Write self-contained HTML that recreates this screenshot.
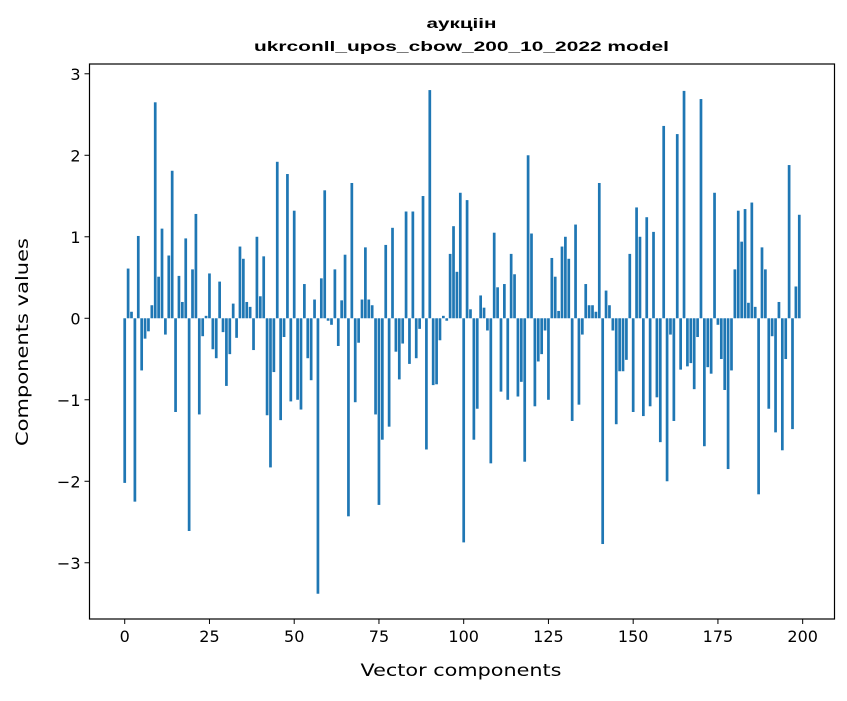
<!DOCTYPE html>
<html><head><meta charset="utf-8"><style>
html,body{margin:0;padding:0;background:#fff;}
svg text{font-family:"DejaVu Sans","Liberation Sans",sans-serif;fill:#000;}
</style></head><body>
<svg id="chart" width="847" height="696" viewBox="0 0 847 696" xmlns="http://www.w3.org/2000/svg">
<rect x="0" y="0" width="847" height="696" fill="#fff"/>
<text x="461.5" y="28" text-anchor="middle" font-size="14" font-weight="bold" textLength="70" lengthAdjust="spacingAndGlyphs" style="font-family:'Liberation Sans',sans-serif">аукціін</text>
<text x="461.5" y="51" text-anchor="middle" font-size="14" font-weight="bold" textLength="415" lengthAdjust="spacingAndGlyphs" style="font-family:'Liberation Sans',sans-serif">ukrconll_upos_cbow_200_10_2022 model</text>
<g id="bars"></g>
<g id="xticks"></g>
<g id="yticks"></g>
<rect x="89.5" y="64" width="745" height="555" fill="none" stroke="#000" stroke-width="1.2"/>
<text x="461" y="676" text-anchor="middle" font-size="16.5" textLength="201" lengthAdjust="spacingAndGlyphs">Vector components</text>
<text transform="translate(28,342) rotate(-90)" text-anchor="middle" font-size="16.5" textLength="208" lengthAdjust="spacingAndGlyphs">Components values</text>
</svg>
<script>
const values = [
-2.02,0.61,0.08,-2.25,1.01,-0.64,-0.25,-0.16,0.16,2.65,
0.51,1.10,-0.2,0.77,1.81,-1.15,0.52,0.2,0.98,-2.61,
0.6,1.28,-1.18,-0.22,0.03,0.55,-0.38,-0.49,0.45,-0.17,
-0.83,-0.44,0.18,-0.24,0.88,0.73,0.2,0.14,-0.39,1.0,
0.27,0.76,-1.19,-1.83,-0.66,1.92,-1.25,-0.23,1.77,-1.02,
1.32,-1.0,-1.12,0.42,-0.49,-0.76,0.23,-3.38,0.49,1.57,
-0.03,-0.08,0.6,-0.34,0.22,0.78,-2.43,1.66,-1.03,-0.3,
0.23,0.87,0.23,0.16,-1.18,-2.29,-1.49,0.9,-1.33,1.11,
-0.41,-0.75,-0.31,1.31,-0.56,1.31,-0.49,-0.13,1.5,-1.61,
2.8,-0.82,-0.81,-0.27,0.03,-0.03,0.79,1.13,0.57,1.54,
-2.75,1.45,0.11,-1.49,-1.11,0.28,0.13,-0.15,-1.78,1.05,
0.38,-0.9,0.42,-1.0,0.79,0.54,-0.96,-0.78,-1.76,2.0,
1.04,-1.08,-0.53,-0.44,-0.15,-1.0,0.74,0.51,0.09,0.88,
1.0,0.73,-1.26,1.15,-1.06,-0.2,0.42,0.16,0.16,0.08,
1.66,-2.77,0.34,0.16,-0.15,-1.3,-0.65,-0.65,-0.51,0.79,
-1.15,1.36,1.0,-1.2,1.24,-1.08,1.06,-0.97,-1.52,2.36,
-2.0,-0.2,-1.26,2.26,-0.63,2.79,-0.59,-0.55,-0.87,-0.23,
2.69,-1.57,-0.6,-0.68,1.54,-0.08,-0.5,-0.88,-1.85,-0.64,
0.6,1.32,0.94,1.34,0.19,1.42,0.14,-2.16,0.87,0.6,
-1.11,-0.22,-1.4,0.2,-1.62,-0.5,1.88,-1.36,0.39,1.27
];
const xTickLabels = ["0","25","50","75","100","125","150","175","200"];
const yTickLabels = ["−3","−2","−1","0","1","2","3"];
const yTickValues = [-3,-2,-1,0,1,2,3];
const xTickValues = [0,25,50,75,100,125,150,175,200];

const NS = "http://www.w3.org/2000/svg";
const L=89.5, R=834.5, T=64, B=619;
const xMin=-10.39, xMax=209.39, yMin=-3.69, yMax=3.12;
function xs(v){return L+(v-xMin)/(xMax-xMin)*(R-L);}
function ys(v){return B-(v-yMin)/(yMax-yMin)*(B-T);}
const bw = 0.8*(R-L)/(xMax-xMin);

const gb=document.getElementById('bars');
values.forEach((v,i)=>{
  const r=document.createElementNS(NS,'rect');
  const y0=ys(0), y1=ys(v);
  r.setAttribute('x',xs(i)-bw/2);
  r.setAttribute('y',Math.min(y0,y1));
  r.setAttribute('width',bw);
  r.setAttribute('height',Math.abs(y1-y0));
  r.setAttribute('fill','#1f77b4');
  
  
  gb.appendChild(r);
});
const gx=document.getElementById('xticks');
xTickValues.forEach((v,i)=>{
  const x=xs(v);
  const l=document.createElementNS(NS,'line');
  l.setAttribute('x1',x);l.setAttribute('x2',x);l.setAttribute('y1',B);l.setAttribute('y2',B+5);
  l.setAttribute('stroke','#000');l.setAttribute('stroke-width','1');
  
  
  gx.appendChild(l);
  const t=document.createElementNS(NS,'text');
  t.setAttribute('x',x);t.setAttribute('y',B+23);
  t.setAttribute('text-anchor','middle');t.setAttribute('font-size','16');
  t.textContent=xTickLabels[i];
  
  
  gx.appendChild(t);
});
const gy=document.getElementById('yticks');
yTickValues.forEach((v,i)=>{
  const y=ys(v);
  const l=document.createElementNS(NS,'line');
  l.setAttribute('x1',L-5);l.setAttribute('x2',L);l.setAttribute('y1',y);l.setAttribute('y2',y);
  l.setAttribute('stroke','#000');l.setAttribute('stroke-width','1');
  
  
  gy.appendChild(l);
  const t=document.createElementNS(NS,'text');
  t.setAttribute('x',L-9);t.setAttribute('y',y+6);
  t.setAttribute('text-anchor','end');t.setAttribute('font-size','16');
  t.textContent=yTickLabels[i];
  
  
  gy.appendChild(t);
});
</script>
</body></html>
